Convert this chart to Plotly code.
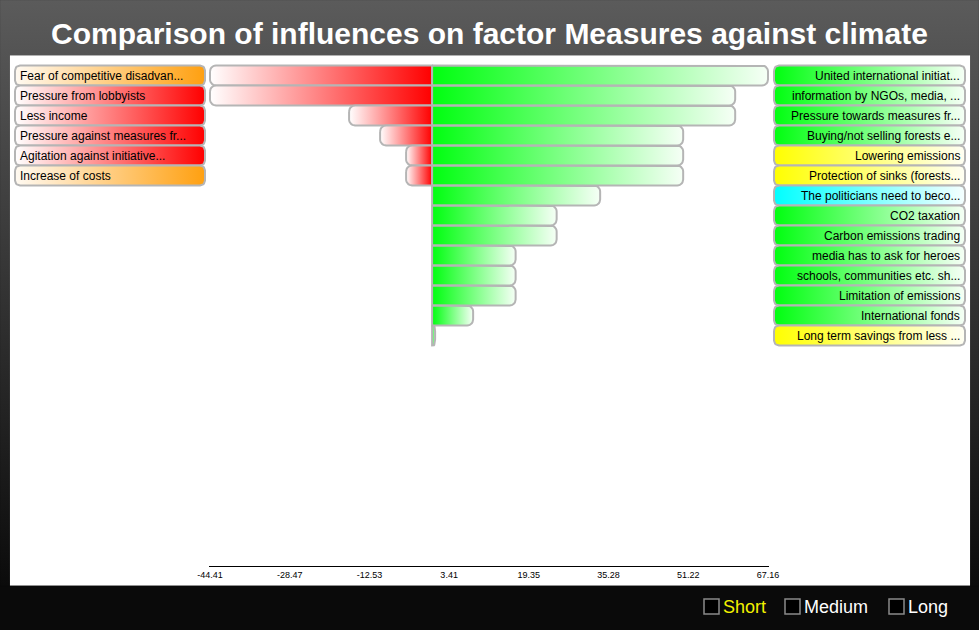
import numpy as np
import plotly.graph_objects as go

# ---------------- data ----------------
title_text = "Comparison of influences on factor Measures against climate"

neg_labels = [
    "Fear of competitive disadvan...",
    "Pressure from lobbyists",
    "Less income",
    "Pressure against measures fr...",
    "Agitation against initiative...",
    "Increase of costs",
]
neg_values = [-44.41, -44.41, -16.6, -10.4, -5.2, -5.2]
neg_kinds = ["orange", "red", "red", "red", "red", "orange"]

pos_labels = [
    "United international initiat...",
    "information by NGOs, media, ...",
    "Pressure towards measures fr...",
    "Buying/not selling forests e...",
    "Lowering emissions",
    "Protection of sinks (forests...",
    "The politicians need to beco...",
    "CO2 taxation",
    "Carbon emissions trading",
    "media has to ask for heroes",
    "schools, communities etc. sh...",
    "Limitation of emissions",
    "International fonds",
    "Long term savings from less ...",
]
pos_values = [67.162, 60.6, 60.6, 50.2, 50.2, 50.2, 33.6, 24.9, 24.9, 16.7, 16.7, 16.7, 8.2, 0.6]
pos_kinds = ["green", "green", "green", "green", "yellow", "yellow", "cyan",
             "green", "green", "green", "green", "green", "green", "yellow"]

legend_items = ["Short", "Medium", "Long"]
legend_colors = ["#f2f200", "#ffffff", "#ffffff"]

vmin = min(neg_values)
vmax = max(pos_values)
tick_vals = list(np.linspace(vmin, vmax, 8))
tick_text = [f"{v:.2f}" for v in tick_vals]

# ---------------- styling / layout constants ----------------
W, H = 979, 630
FONT = "Liberation Sans, Arial, Helvetica, sans-serif"
AX_L, AX_R = 209, 769          # pixel extent of value axis
AX_LINE_Y = 566               # pixel y of the value axis line
ROW0_Y, ROW_PX = 75.5, 20.0    # pixel centre of first row, row pitch
BORDER = "#b5b5b5"

GRAD = {
    "red": [[0, "#ffffff"], [1, "#ff0000"]],
    "orange": [[0, "#fffaf2"], [1, "#ffa010"]],
    "green": [[0, "#00ff10"], [1, "#f6fff6"]],
    "yellow": [[0, "#ffff00"], [1, "#fffff4"]],
    "cyan": [[0, "#00ffff"], [1, "#f6ffff"]],
}

pad_units = 1.0 / ((AX_R - AX_L - 2) / (vmax - vmin))
x2_range = [vmin - pad_units, vmax + pad_units]
px_per_unit = (AX_R - AX_L) / (x2_range[1] - x2_range[0])
y2_range = [(AX_LINE_Y - ROW0_Y) / ROW_PX, -ROW0_Y / ROW_PX]


def rrect(x0, x1, y0, y1, rx, ry, corners=(True, True, True, True), n=8):
    rx = min(rx, abs(x1 - x0) / 2)
    ry = min(ry, abs(y1 - y0) / 2)
    spec = [(x0, y0, x0 + rx, y0 + ry, 180), (x1, y0, x1 - rx, y0 + ry, 270),
            (x1, y1, x1 - rx, y1 - ry, 0), (x0, y1, x0 + rx, y1 - ry, 90)]
    xs, ys = [], []
    for (px, py, cx, cy, a0), rnd in zip(spec, corners):
        if rnd and rx > 0:
            for a in np.linspace(a0, a0 + 90, n):
                xs.append(cx + rx * np.cos(np.radians(a)))
                ys.append(cy + ry * np.sin(np.radians(a)))
        else:
            xs.append(px)
            ys.append(py)
    xs.append(xs[0])
    ys.append(ys[0])
    return xs, ys


def shape_trace(xs, ys, cs, axes, lw=2, lc=BORDER, orient="horizontal"):
    return go.Scatter(
        x=xs, y=ys, mode="lines", fill="toself",
        fillgradient=dict(type=orient, colorscale=cs),
        line=dict(color=lc, width=lw), hoverinfo="skip", showlegend=False,
        xaxis=axes[0], yaxis=axes[1],
    )


fig = go.Figure()
PX = ("x", "y")
DATA = ("x2", "y2")

# background gradient + white panel (pixel axes)
bx, by = rrect(0, W, 0, 586, 0, 0)
fig.add_trace(shape_trace(bx, by, [[0, "#0b0b0b"], [1, "#5b5b5b"]], PX, lw=0.1,
                          lc="#0b0b0b", orient="vertical"))
px_, py_ = rrect(10, 970, 55.5, 585.5, 0, 0)
fig.add_trace(go.Scatter(x=px_, y=py_, mode="lines", fill="toself", fillcolor="#ffffff",
                         line=dict(width=0.1, color="#ffffff"), hoverinfo="skip",
                         showlegend=False, xaxis="x", yaxis="y"))

# label boxes
annotations = []
for i, (lab, kind) in enumerate(zip(neg_labels, neg_kinds)):
    yc = ROW0_Y + ROW_PX * i
    xs, ys = rrect(15, 205, yc - 10, yc + 10, 5, 5)
    fig.add_trace(shape_trace(xs, ys, GRAD[kind], PX))
    annotations.append(dict(x=18, y=yc, xref="x", yref="y", text=lab, showarrow=False,
                            xanchor="left", yanchor="middle",
                            font=dict(family=FONT, size=12, color="#000000")))
for i, (lab, kind) in enumerate(zip(pos_labels, pos_kinds)):
    yc = ROW0_Y + ROW_PX * i
    xs, ys = rrect(774, 965, yc - 10, yc + 10, 5, 5)
    fig.add_trace(shape_trace(xs, ys, GRAD[kind], PX))
    annotations.append(dict(x=962, y=yc, xref="x", yref="y", text=lab, showarrow=False,
                            xanchor="right", yanchor="middle",
                            font=dict(family=FONT, size=12, color="#000000")))

# bars (data axes)
rx_u = 6 / px_per_unit
ry_u = 6 / ROW_PX
for i, v in enumerate(neg_values):
    xs, ys = rrect(v, 0, i - 0.5, i + 0.5, rx_u, ry_u, corners=(True, False, False, True))
    fig.add_trace(shape_trace(xs, ys, GRAD["red"], DATA))
for i, v in enumerate(pos_values):
    xs, ys = rrect(0, v, i - 0.5, i + 0.5, rx_u, ry_u, corners=(False, True, True, False))
    fig.add_trace(shape_trace(xs, ys, GRAD["green"], DATA))

# title
annotations.append(dict(x=W / 2, y=33, xref="x", yref="y", text="<b>" + title_text + "</b>",
                        showarrow=False, xanchor="center", yanchor="middle",
                        font=dict(family=FONT, size=30, color="#ffffff")))

# legend checkboxes
shapes = []
box_x = [704, 785, 889]
for bxp, lab, col in zip(box_x, legend_items, legend_colors):
    shapes.append(dict(type="rect", xref="x", yref="y", x0=bxp, x1=bxp + 15, y0=599, y1=614,
                       line=dict(color="#8a8a8a", width=1.5), fillcolor="#000000", layer="above"))
    annotations.append(dict(x=bxp + 17, y=607, xref="x", yref="y", text=lab, showarrow=False,
                            xanchor="left", yanchor="middle",
                            font=dict(family=FONT, size=18, color=col)))

fig.update_layout(
    template="none",
    width=W, height=H, margin=dict(l=0, r=0, t=0, b=0, pad=0, autoexpand=False),
    paper_bgcolor="#0a0a0a", plot_bgcolor="rgba(0,0,0,0)",
    showlegend=False, annotations=annotations, shapes=shapes,
    xaxis=dict(domain=[0, 1], range=[0, W], visible=False, fixedrange=True, automargin=False),
    yaxis=dict(domain=[0, 1], range=[H, 0], visible=False, fixedrange=True, automargin=False),
    xaxis2=dict(domain=[AX_L / W, AX_R / W], range=x2_range, anchor="y2",
                tickvals=tick_vals, ticktext=tick_text, showline=True, linecolor="#000000",
                linewidth=1, ticks="", showgrid=False, zeroline=False, fixedrange=True,
                automargin=False, tickfont=dict(family=FONT, size=9, color="#000000")),
    yaxis2=dict(domain=[(H - AX_LINE_Y) / H, 1], range=y2_range, anchor="x2", visible=False,
                fixedrange=True, automargin=False),
)

fig.write_html("out.html", config={"displayModeBar": False},
               post_script="document.body.style.margin='0';document.body.style.overflow='hidden';")
